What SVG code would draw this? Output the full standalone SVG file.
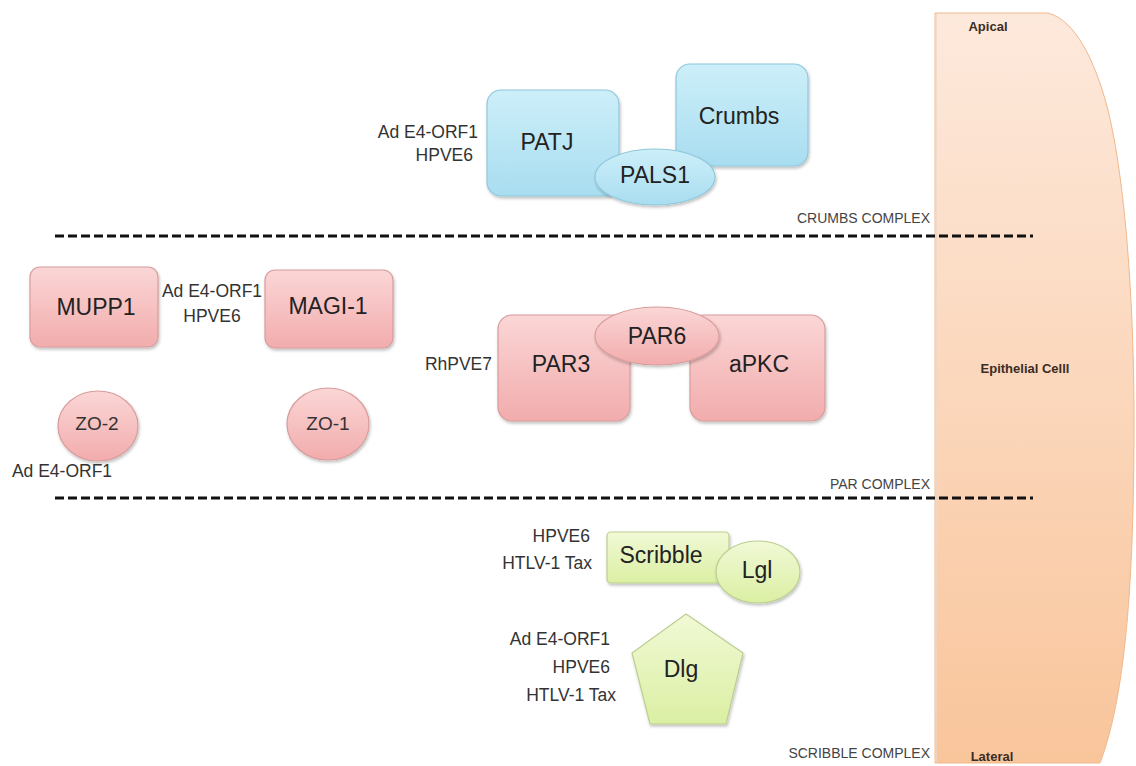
<svg xmlns="http://www.w3.org/2000/svg" width="1136" height="766" viewBox="0 0 1136 766">
<style>
.lbl{font-family:"Liberation Sans",Arial,sans-serif;font-size:23px;fill:#222;text-anchor:middle}
.zo{font-family:"Liberation Sans",Arial,sans-serif;font-size:19px;fill:#333;text-anchor:middle}
.sm{font-family:"Liberation Sans",Arial,sans-serif;font-size:17.5px;fill:#333}
.cx{font-family:"Liberation Sans",Arial,sans-serif;font-size:14px;fill:#444;text-anchor:end}
.cl{font-family:"Liberation Sans",Arial,sans-serif;font-size:13px;font-weight:bold;fill:#3a2c24;text-anchor:middle}
.blue{fill:url(#gb);stroke:#8fc8dc;stroke-width:1.2}
.pink{fill:url(#gp);stroke:#d89c9c;stroke-width:1.2}
.green{fill:url(#gg);stroke:#bccf90;stroke-width:1.2}
.dash{stroke:#111;stroke-width:3;stroke-dasharray:9 4;fill:none}
</style>
<defs>
<linearGradient id="gb" x1="0" y1="0" x2="0" y2="1"><stop offset="0" stop-color="#cdeff9"/><stop offset="1" stop-color="#a8ddf0"/></linearGradient>
<linearGradient id="gp" x1="0" y1="0" x2="0" y2="1"><stop offset="0" stop-color="#fbd6d6"/><stop offset="1" stop-color="#f2acad"/></linearGradient>
<linearGradient id="gg" x1="0" y1="0" x2="0" y2="1"><stop offset="0" stop-color="#f1f9d6"/><stop offset="1" stop-color="#dbefa3"/></linearGradient>
<linearGradient id="gc" x1="0" y1="0" x2="0" y2="1"><stop offset="0" stop-color="#fde9dc"/><stop offset="1" stop-color="#f9c59b"/></linearGradient>
<filter id="sh" x="-10%" y="-10%" width="130%" height="130%"><feDropShadow dx="1" dy="2" stdDeviation="1.5" flood-color="#000" flood-opacity="0.25"/></filter>
</defs>
<rect width="1136" height="766" fill="#fff"/>
<g id="cell">
<path d="M935,13 L1048,13 C1075,20 1095,60 1108,110 C1125,180 1134,300 1134,420 C1134,560 1128,690 1100,763 L935,763 Z" fill="url(#gc)" stroke="#f0b88c" stroke-width="1"/>
<line x1="936" y1="14" x2="936" y2="762" stroke="#e9d8cc" stroke-width="1.5"/>
<text class="cl" x="988" y="31">Apical</text>
<text class="cl" x="1025" y="373">Epithelial Celll</text>
<text class="cl" x="992" y="761">Lateral</text>
</g>
<g id="connectors">
<line class="dash" x1="55" y1="236" x2="1033" y2="236"/>
<line class="dash" x1="55" y1="498" x2="1033" y2="498"/>
</g>
<g id="complex-labels">
<text class="cx" x="930" y="223">CRUMBS COMPLEX</text>
<text class="cx" x="930" y="489">PAR COMPLEX</text>
<text class="cx" x="930" y="758">SCRIBBLE COMPLEX</text>
</g>
<g id="crumbs">
<rect class="blue" x="676" y="64" width="132" height="102" rx="14" filter="url(#sh)"/>
<text class="lbl" x="739" y="124">Crumbs</text>
</g>
<g id="patj">
<rect class="blue" x="487" y="90" width="132" height="106" rx="14" filter="url(#sh)"/>
<text class="lbl" x="547" y="150">PATJ</text>
</g>
<g id="pals1">
<ellipse class="blue" cx="655" cy="177" rx="60" ry="28" filter="url(#sh)"/>
<text class="lbl" x="655" y="183">PALS1</text>
</g>
<g id="patj-viral">
<text class="sm" x="478" y="138" text-anchor="end">Ad E4-ORF1</text>
<text class="sm" x="473" y="161" text-anchor="end">HPVE6</text>
</g>
<g id="mupp1">
<rect class="pink" x="30" y="267" width="128" height="80" rx="10" filter="url(#sh)"/>
<text class="lbl" x="96" y="315">MUPP1</text>
</g>
<g id="mupp1-viral">
<text class="sm" x="212" y="297" text-anchor="middle">Ad E4-ORF1</text>
<text class="sm" x="212" y="322" text-anchor="middle">HPVE6</text>
</g>
<g id="magi1">
<rect class="pink" x="265" y="270" width="128" height="78" rx="10" filter="url(#sh)"/>
<text class="lbl" x="328" y="314">MAGI-1</text>
</g>
<g id="zo2">
<ellipse class="pink" cx="98" cy="426" rx="40" ry="35" filter="url(#sh)"/>
<text class="zo" x="97" y="430">ZO-2</text>
</g>
<g id="zo2-viral">
<text class="sm" x="62" y="477" text-anchor="middle">Ad E4-ORF1</text>
</g>
<g id="zo1">
<ellipse class="pink" cx="328" cy="424" rx="41" ry="36" filter="url(#sh)"/>
<text class="zo" x="328" y="430">ZO-1</text>
</g>
<g id="par3">
<rect class="pink" x="498" y="315" width="132" height="106" rx="14" filter="url(#sh)"/>
<text class="lbl" x="561" y="372">PAR3</text>
</g>
<g id="apkc">
<rect class="pink" x="690" y="315" width="135" height="106" rx="14" filter="url(#sh)"/>
<text class="lbl" x="759" y="372">aPKC</text>
</g>
<g id="par6">
<ellipse class="pink" cx="657" cy="336" rx="62" ry="29" filter="url(#sh)"/>
<text class="lbl" x="657" y="344">PAR6</text>
</g>
<g id="par3-viral">
<text class="sm" x="492" y="370" text-anchor="end">RhPVE7</text>
</g>
<g id="scribble">
<rect class="green" x="607" y="532" width="122" height="51" rx="4" filter="url(#sh)"/>
<text class="lbl" x="661" y="563">Scribble</text>
</g>
<g id="lgl">
<ellipse class="green" cx="758" cy="572" rx="42" ry="31" filter="url(#sh)"/>
<text class="lbl" x="757" y="578">Lgl</text>
</g>
<g id="scribble-viral">
<text class="sm" x="590" y="542" text-anchor="end">HPVE6</text>
<text class="sm" x="592" y="569" text-anchor="end">HTLV-1 Tax</text>
</g>
<g id="dlg">
<polygon class="green" points="686,614 743,653 726,724 650,724 632,653" stroke-linejoin="round" filter="url(#sh)"/>
<text class="lbl" x="681" y="677">Dlg</text>
</g>
<g id="dlg-viral">
<text class="sm" x="610" y="645" text-anchor="end">Ad E4-ORF1</text>
<text class="sm" x="610" y="673" text-anchor="end">HPVE6</text>
<text class="sm" x="616" y="701" text-anchor="end">HTLV-1 Tax</text>
</g>
</svg>
